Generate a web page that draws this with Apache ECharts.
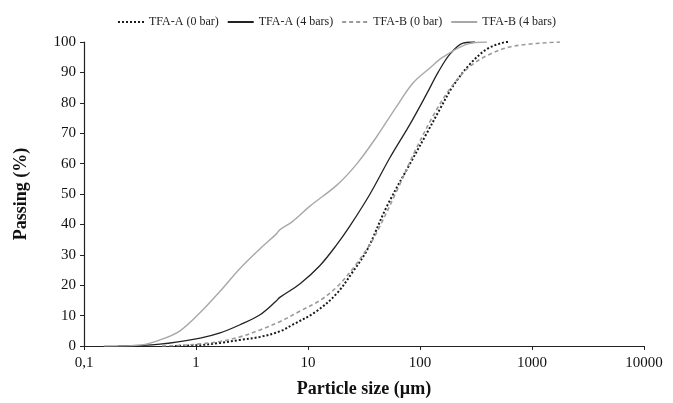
<!DOCTYPE html>
<html>
<head>
<meta charset="utf-8">
<script src="https://cdn.jsdelivr.net/npm/echarts@6/dist/echarts.min.js"></script>
<style>
  html, body { margin: 0; padding: 0; background: #fff; }
  #chart { width: 673px; height: 403px; }
</style>
</head>
<body>
<div id="chart"></div>
<script>
var myChart = echarts.init(document.getElementById('chart'))

// particle size (um) and passing (%)
var sizeA0 = [0.6, 1.09, 1.64, 2.47, 3.73, 5.6, 7.3, 12, 18.2, 25.2, 33.7, 50.7, 81.5, 115, 151, 197, 279, 396, 551, 611]
var passA0 = [0, 0.3, 1, 2, 3, 4.8, 7, 11.5, 17.4, 24.5, 31.6, 46, 60, 70, 78, 85.5, 92.7, 97.7, 99.8, 100]

var sizeA4 = [0.2, 0.477, 1.09, 1.64, 2.47, 3.73, 5.2, 5.6, 8.5, 12.8, 18.2, 23.7, 35.8, 54, 81.5, 115, 145, 185, 242, 310]
var passA4 = [0, 0.6, 2.6, 4.3, 7, 10.3, 14.8, 16, 20.5, 26.5, 33.5, 39.5, 50, 62, 73, 83, 90, 96, 99.6, 100]

var sizeB0 = [0.5, 0.72, 1.09, 1.64, 2.47, 3.73, 5.6, 8.5, 12.8, 18.2, 25.2, 33.7, 41.3, 62, 90, 130, 180, 270, 420, 700, 1780]
var passB0 = [0, 0.2, 0.7, 1.5, 3, 5.3, 8, 11.5, 15, 19.5, 25.5, 32, 37.5, 51, 64, 75.5, 84, 91.5, 96, 98.7, 100]

var sizeB4 = [0.15, 0.316, 0.477, 0.72, 1.09, 1.64, 2.47, 3.73, 5.2, 5.6, 7.3, 10.4, 18.2, 27.4, 41.3, 62.3, 86.6, 123, 160, 263, 396]
var passB4 = [0, 0.3, 2, 5, 11, 18, 25.5, 32, 36.8, 38.2, 41, 46, 53, 60, 69, 79, 86.5, 91.5, 95, 99.3, 100]

var xTicks = [0.1, 1, 10, 100, 1000, 10000]

function pairs(xs, ys) {
  return xs.map(function (x, i) { return [x, ys[i]] })
}

var font = '"Liberation Serif", "DejaVu Serif", serif'

var option = {
  animation: false,
  textStyle: { fontFamily: font },
  legend: {
    top: 11,
    left: 'center',
    itemWidth: 26,
    itemHeight: 8,
    itemGap: 8,
    itemStyle: { opacity: 0 },
    textStyle: { fontFamily: font, fontSize: 12, color: '#222' },
    data: ['TFA-A (0 bar)', 'TFA-A (4 bars)', 'TFA-B (0 bar)', 'TFA-B (4 bars)']
  },
  grid: { left: 84, right: 29, top: 42, bottom: 57 },
  xAxis: {
    type: 'log',
    logBase: 10,
    min: xTicks[0],
    max: xTicks[xTicks.length - 1],
    name: 'Particle size (\u00b5m)',
    nameLocation: 'middle',
    nameGap: 34,
    nameTextStyle: { fontFamily: font, fontSize: 18, fontWeight: 'bold', color: '#111' },
    axisLine: { lineStyle: { color: '#222', width: 1.2 } },
    axisTick: { show: true, length: 4, lineStyle: { color: '#222' } },
    minorTick: { show: false },
    splitLine: { show: false },
    axisLabel: {
      fontFamily: font, fontSize: 15, color: '#111', margin: 10,
      formatter: function (v) { return String(+v.toPrecision(6)).replace('.', ',') }
    }
  },
  yAxis: {
    type: 'value',
    min: 0,
    max: 100,
    interval: 10,
    name: 'Passing (%)',
    nameLocation: 'middle',
    nameGap: 54,
    nameTextStyle: { fontFamily: font, fontSize: 18, fontWeight: 'bold', color: '#111' },
    axisLine: { show: true, lineStyle: { color: '#222', width: 1.2 } },
    axisTick: { show: true, length: 4, lineStyle: { color: '#222' } },
    splitLine: { show: false },
    axisLabel: { fontFamily: font, fontSize: 15, color: '#111', margin: 8 }
  },
  series: [
    {
      name: 'TFA-A (0 bar)',
      type: 'line',
      smooth: 0.35,
      symbol: 'none',
      lineStyle: { color: '#1a1a1a', width: 2, type: [2, 2] },
      itemStyle: { color: '#1a1a1a' },
      data: pairs(sizeA0, passA0)
    },
    {
      name: 'TFA-A (4 bars)',
      type: 'line',
      smooth: 0.35,
      symbol: 'none',
      lineStyle: { color: '#222', width: 1.3 },
      itemStyle: { color: '#222' },
      data: pairs(sizeA4, passA4)
    },
    {
      name: 'TFA-B (0 bar)',
      type: 'line',
      smooth: 0.35,
      symbol: 'none',
      lineStyle: { color: '#9a9a9a', width: 1.6, type: [4, 3] },
      itemStyle: { color: '#9a9a9a' },
      data: pairs(sizeB0, passB0)
    },
    {
      name: 'TFA-B (4 bars)',
      type: 'line',
      smooth: 0.35,
      symbol: 'none',
      lineStyle: { color: '#a8a8a8', width: 1.4 },
      itemStyle: { color: '#a8a8a8' },
      data: pairs(sizeB4, passB4)
    }
  ]
}

myChart.setOption(option)
</script>
</body>
</html>
